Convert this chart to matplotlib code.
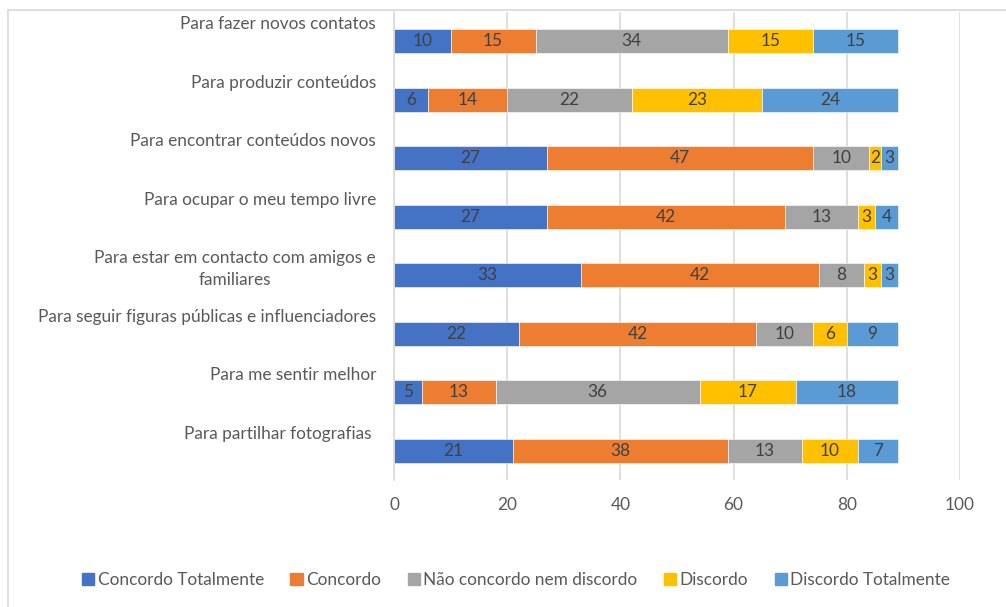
import matplotlib.pyplot as plt
import matplotlib.patches as mpatches
import numpy as np

plt.rcParams['font.family'] = ['Lato', 'DejaVu Sans']

categories = [
    "Para fazer novos contatos",
    "Para produzir conteúdos",
    "Para encontrar conteúdos novos",
    "Para ocupar o meu tempo livre",
    "Para estar em contacto com amigos e\nfamiliares",
    "Para seguir figuras públicas e influenciadores",
    "Para me sentir melhor",
    "Para partilhar fotografias ",
]
series_names = ["Concordo Totalmente", "Concordo", "Não concordo nem discordo",
                "Discordo", "Discordo Totalmente"]
concordo_totalmente = [10, 6, 27, 27, 33, 22, 5, 21]
concordo = [15, 14, 47, 42, 42, 42, 13, 38]
neutro = [34, 22, 10, 13, 8, 10, 36, 13]
discordo = [15, 23, 2, 3, 3, 6, 17, 10]
discordo_totalmente = [15, 24, 3, 4, 3, 9, 18, 7]
x_ticks = [0, 20, 40, 60, 80, 100]

series = [concordo_totalmente, concordo, neutro, discordo, discordo_totalmente]
colors = ["#4472C4", "#ED7D31", "#A5A5A5", "#FFC000", "#5B9BD5"]

W, H = 1006, 607
FS = 12.4
fig = plt.figure(figsize=(W / 100, H / 100), dpi=100)

# chart frame
frame = mpatches.Rectangle((8 / W, 0 - 0.01), 1.0, (H - 10) / H + 0.01,
                           transform=fig.transFigure, fill=False,
                           edgecolor="#D9D9D9", linewidth=1.2)
fig.patches.append(frame)

ax = fig.add_axes([394 / W, 1 - 480 / H, (960 - 394) / W, (480 - 12) / H])

y = np.arange(len(categories))
left = np.zeros(len(categories))
for name, vals, col in zip(series_names, series, colors):
    vals = np.array(vals, dtype=float)
    bars = ax.barh(y, vals, left=left, height=0.41, color=col,
                   edgecolor="white", linewidth=0.4, label=name)
    for b, v in zip(bars, vals):
        ax.text(b.get_x() + b.get_width() / 2, b.get_y() + b.get_height() / 2,
                f"{int(v)}", ha="center", va="center", fontsize=FS,
                color="#404040")
    left += vals

ax.set_xlim(0, 100)
ax.set_ylim(len(categories) - 0.5, -0.5)
ax.set_xticks(x_ticks)
ax.set_xticklabels([str(t) for t in x_ticks])
ax.tick_params(axis="x", length=0, pad=12, labelsize=FS, labelcolor="#595959")
ax.set_yticks([])
ax.grid(axis="x", color="#D9D9D9", linewidth=1.2)
ax.set_axisbelow(True)
for s in ["top", "right", "bottom"]:
    ax.spines[s].set_visible(False)
ax.spines["left"].set_color("#D9D9D9")
ax.spines["left"].set_linewidth(1.2)

# category labels sit just above each bar
for yi, cat in zip(y, categories):
    ax.annotate(cat, xy=(0, yi), xycoords="data", xytext=(-18, 25),
                textcoords="offset pixels", ha="right", va="top",
                fontsize=FS, color="#595959", multialignment="center",
                linespacing=1.45)

handles = [mpatches.Patch(color=c, label=n) for n, c in zip(series_names, colors)]
fig.legend(handles=handles, loc="center", bbox_to_anchor=(516 / W, 1 - 580 / H),
           ncol=5, frameon=False, fontsize=FS, labelcolor="#595959",
           handlelength=0.7, handleheight=0.7, handletextpad=0.2,
           columnspacing=1.55)

fig.savefig("out.png", dpi=100)
